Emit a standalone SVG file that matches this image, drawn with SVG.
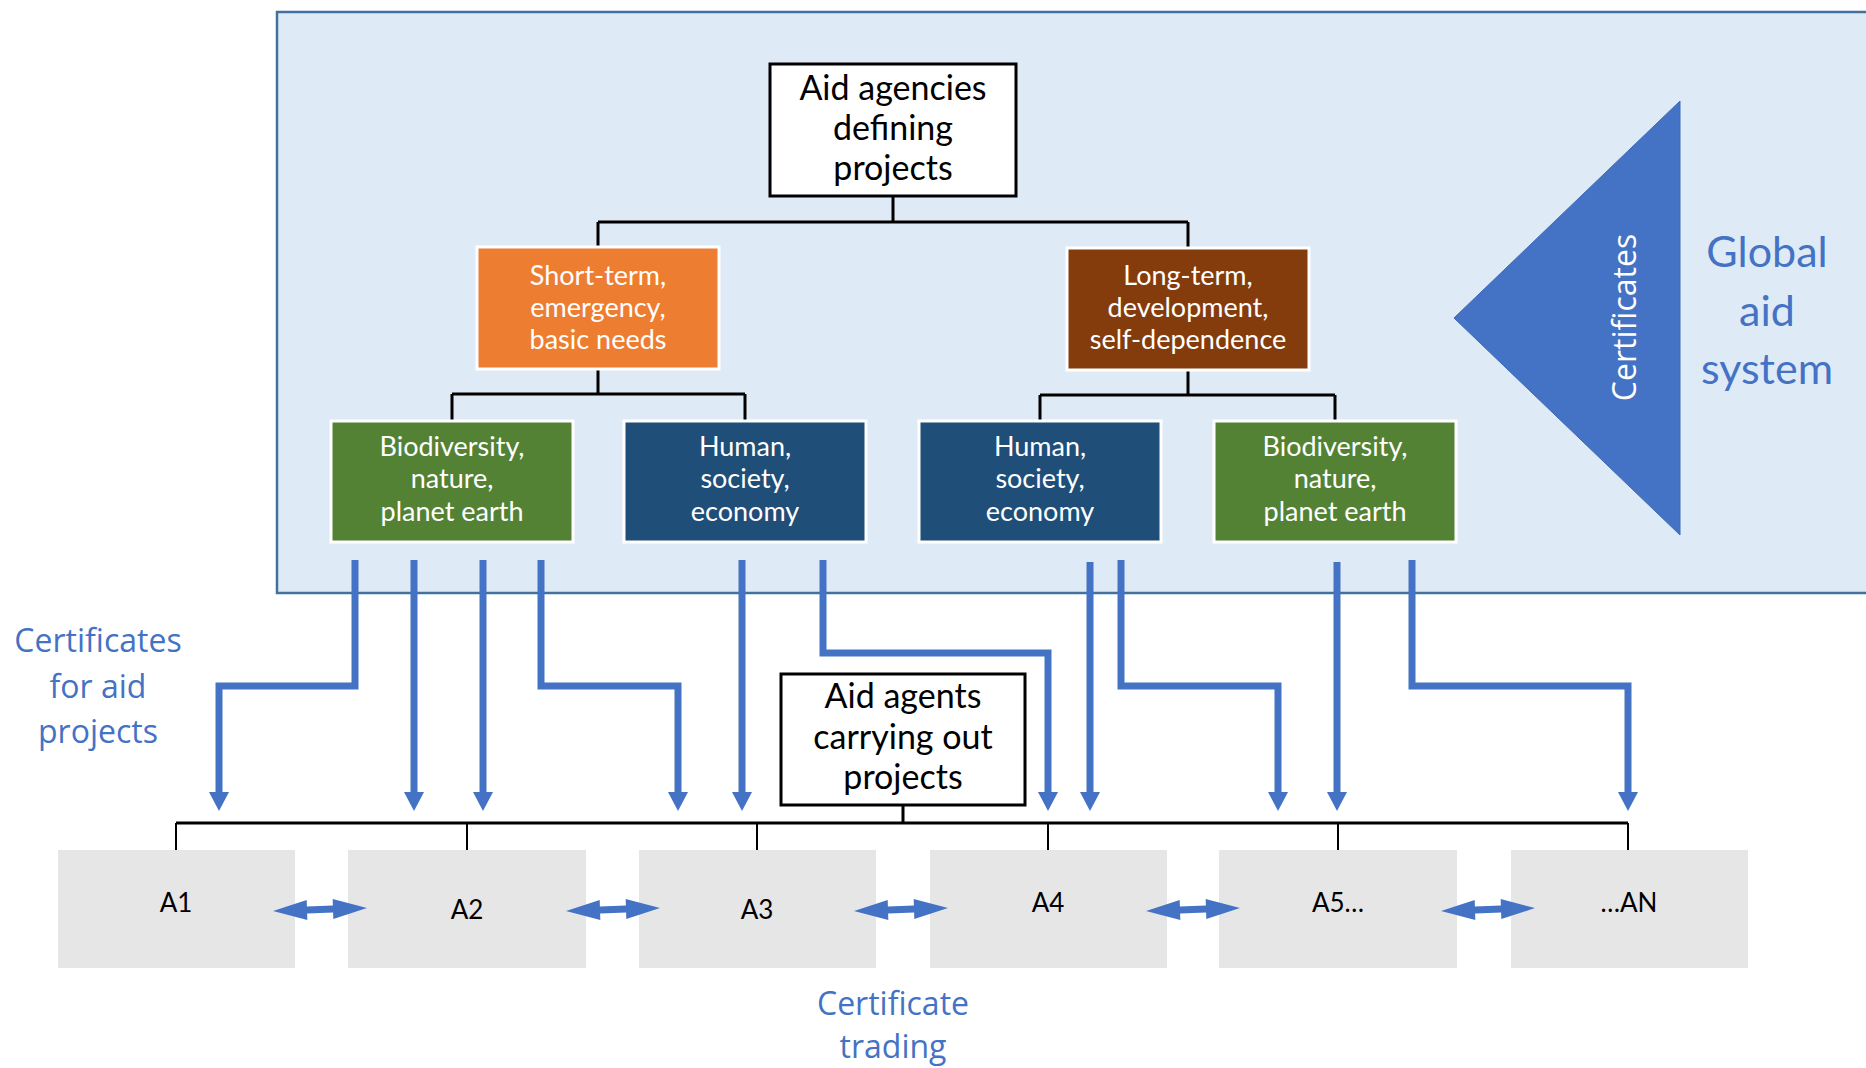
<svg xmlns="http://www.w3.org/2000/svg" width="1866" height="1068" viewBox="0 0 1866 1068">
<defs>
<marker id="ah" viewBox="0 0 20 20" refX="11" refY="10" markerWidth="20" markerHeight="20" markerUnits="userSpaceOnUse" orient="auto"><path d="M0,0 L19,10 L0,20 z" fill="#4472c4"/></marker>
<polygon id="dbl" points="-47,0 -13,-10 -13,-3.5 13,-3.5 13,-10 47,0 13,10 13,3.5 -13,3.5 -13,10" fill="#4472c4"/>
</defs>
<style>
.t{font-family:Lato,"Liberation Sans",sans-serif;text-anchor:middle}
.bk{fill:#000;font-size:34px}
.wh{fill:#fff;font-size:27px}
.lbl{fill:#000;font-size:26px}
.bl{font-family:"Open Sans","Liberation Sans",sans-serif;fill:#4472c4;font-size:32px;text-anchor:middle}
.gl{font-family:Lato,"Liberation Sans",sans-serif;fill:#4472c4;font-size:43px;text-anchor:middle}
.tree{stroke:#000;stroke-width:3;fill:none}
.tick{stroke:#000;stroke-width:2;fill:none}
.arr{stroke:#4472c4;stroke-width:7;fill:none;marker-end:url(#ah);stroke-linejoin:miter}
.wbox{fill:#fff;stroke:#000;stroke-width:3}
.cbox{stroke:#fff;stroke-width:3}
.gbox{fill:#e7e6e6}
</style>
<rect x="0" y="0" width="1866" height="1068" fill="#fff"/>

<g id="global-aid-system">
<rect x="277" y="12" width="1620" height="581" fill="#deebf7" stroke="#41719c" stroke-width="2.5"/>
</g>

<g id="certificates-triangle">
<polygon points="1454,318 1680,101 1680,535" fill="#4472c4" stroke="#3f6bb8" stroke-width="1"/>
<text transform="translate(1636,317.5) rotate(-90)" font-family="'Open Sans','Liberation Sans',sans-serif" font-size="32" fill="#fff" text-anchor="middle">Certificates</text>
</g>

<g id="global-label">
<text class="gl" x="1767" y="267">Global</text>
<text class="gl" x="1767" y="326">aid</text>
<text class="gl" x="1767" y="384">system</text>
</g>

<g id="connectors">
<path class="tree" d="M893,196 V222 M598,222 H1188 M598,222 V247 M1188,222 V247"/>
<path class="tree" d="M598,369 V394 M452,394 H745 M452,394 V421 M745,394 V421"/>
<path class="tree" d="M1188,370 V395 M1040,395 H1335 M1040,395 V421 M1335,395 V421"/>
<path class="tree" d="M903,805 V823 M176,823 H1628" stroke-width="3.5"/>
<path class="tick" d="M176,823 V850 M467,823 V850 M757,823 V850 M1048,823 V850 M1338,823 V850 M1628,823 V850"/>
<path class="arr" d="M355,560 V686 H219 V803"/>
<path class="arr" d="M414,560 V803"/>
<path class="arr" d="M483,560 V803"/>
<path class="arr" d="M541,560 V686 H678 V803"/>
<path class="arr" d="M742,560 V803"/>
<path class="arr" d="M823,560 V653 H1048 V803"/>
<path class="arr" d="M1090,562 V803"/>
<path class="arr" d="M1121,560 V686 H1278 V803"/>
<path class="arr" d="M1337,562 V803"/>
<path class="arr" d="M1412,560 V686 H1628 V803"/>
</g>

<g id="aid-agencies">
<rect class="wbox" x="770" y="64" width="246" height="132"/>
<text class="t bk" x="893" y="100">Aid agencies</text>
<text class="t bk" x="893" y="140">defining</text>
<text class="t bk" x="893" y="180">projects</text>
</g>

<g id="short-term">
<rect class="cbox" x="477" y="247" width="242" height="122" fill="#ed7d31"/>
<text class="t wh" x="598" y="285">Short-term,</text>
<text class="t wh" x="598" y="317">emergency,</text>
<text class="t wh" x="598" y="349">basic needs</text>
</g>

<g id="long-term">
<rect class="cbox" x="1067" y="248" width="242" height="122" fill="#843c0c"/>
<text class="t wh" x="1188" y="285">Long-term,</text>
<text class="t wh" x="1188" y="317">development,</text>
<text class="t wh" x="1188" y="349">self-dependence</text>
</g>

<g id="biodiversity-1">
<rect class="cbox" x="331" y="421" width="242" height="121" fill="#548235"/>
<text class="t wh" x="452" y="456">Biodiversity,</text>
<text class="t wh" x="452" y="488">nature,</text>
<text class="t wh" x="452" y="521">planet earth</text>
</g>

<g id="human-1">
<rect class="cbox" x="624" y="421" width="242" height="121" fill="#1f4e79"/>
<text class="t wh" x="745" y="456">Human,</text>
<text class="t wh" x="745" y="488">society,</text>
<text class="t wh" x="745" y="521">economy</text>
</g>

<g id="human-2">
<rect class="cbox" x="919" y="421" width="242" height="121" fill="#1f4e79"/>
<text class="t wh" x="1040" y="456">Human,</text>
<text class="t wh" x="1040" y="488">society,</text>
<text class="t wh" x="1040" y="521">economy</text>
</g>

<g id="biodiversity-2">
<rect class="cbox" x="1214" y="421" width="242" height="121" fill="#548235"/>
<text class="t wh" x="1335" y="456">Biodiversity,</text>
<text class="t wh" x="1335" y="488">nature,</text>
<text class="t wh" x="1335" y="521">planet earth</text>
</g>

<g id="certificates-label">
<text class="bl" x="98" y="652">Certificates</text>
<text class="bl" x="98" y="698">for aid</text>
<text class="bl" x="98" y="743">projects</text>
</g>

<g id="aid-agents">
<rect class="wbox" x="781" y="674" width="244" height="131"/>
<text class="t bk" x="903" y="708">Aid agents</text>
<text class="t bk" x="903" y="749">carrying out</text>
<text class="t bk" x="903" y="789">projects</text>
</g>

<g id="A1"><rect class="gbox" x="58" y="850" width="237" height="118"/><text class="t lbl" x="176" y="912">A1</text></g>
<g id="A2"><rect class="gbox" x="348" y="850" width="238" height="118"/><text class="t lbl" x="467" y="919">A2</text></g>
<g id="A3"><rect class="gbox" x="639" y="850" width="237" height="118"/><text class="t lbl" x="757" y="919">A3</text></g>
<g id="A4"><rect class="gbox" x="930" y="850" width="237" height="118"/><text class="t lbl" x="1048" y="912">A4</text></g>
<g id="A5"><rect class="gbox" x="1219" y="850" width="238" height="118"/><text class="t lbl" x="1338" y="912">A5…</text></g>
<g id="AN"><rect class="gbox" x="1511" y="850" width="237" height="118"/><text class="t lbl" x="1629" y="912">…AN</text></g>

<g id="trading-arrows">
<use href="#dbl" transform="translate(320,909.5) rotate(-1.8)"/>
<use href="#dbl" transform="translate(613,909.5) rotate(-1.8)"/>
<use href="#dbl" transform="translate(901,909.5) rotate(-1.8)"/>
<use href="#dbl" transform="translate(1193,909.5) rotate(-1.8)"/>
<use href="#dbl" transform="translate(1488,909.5) rotate(-1.8)"/>
</g>

<g id="trading-label">
<text class="bl" x="893" y="1015">Certificate</text>
<text class="bl" x="893" y="1058">trading</text>
</g>
</svg>
